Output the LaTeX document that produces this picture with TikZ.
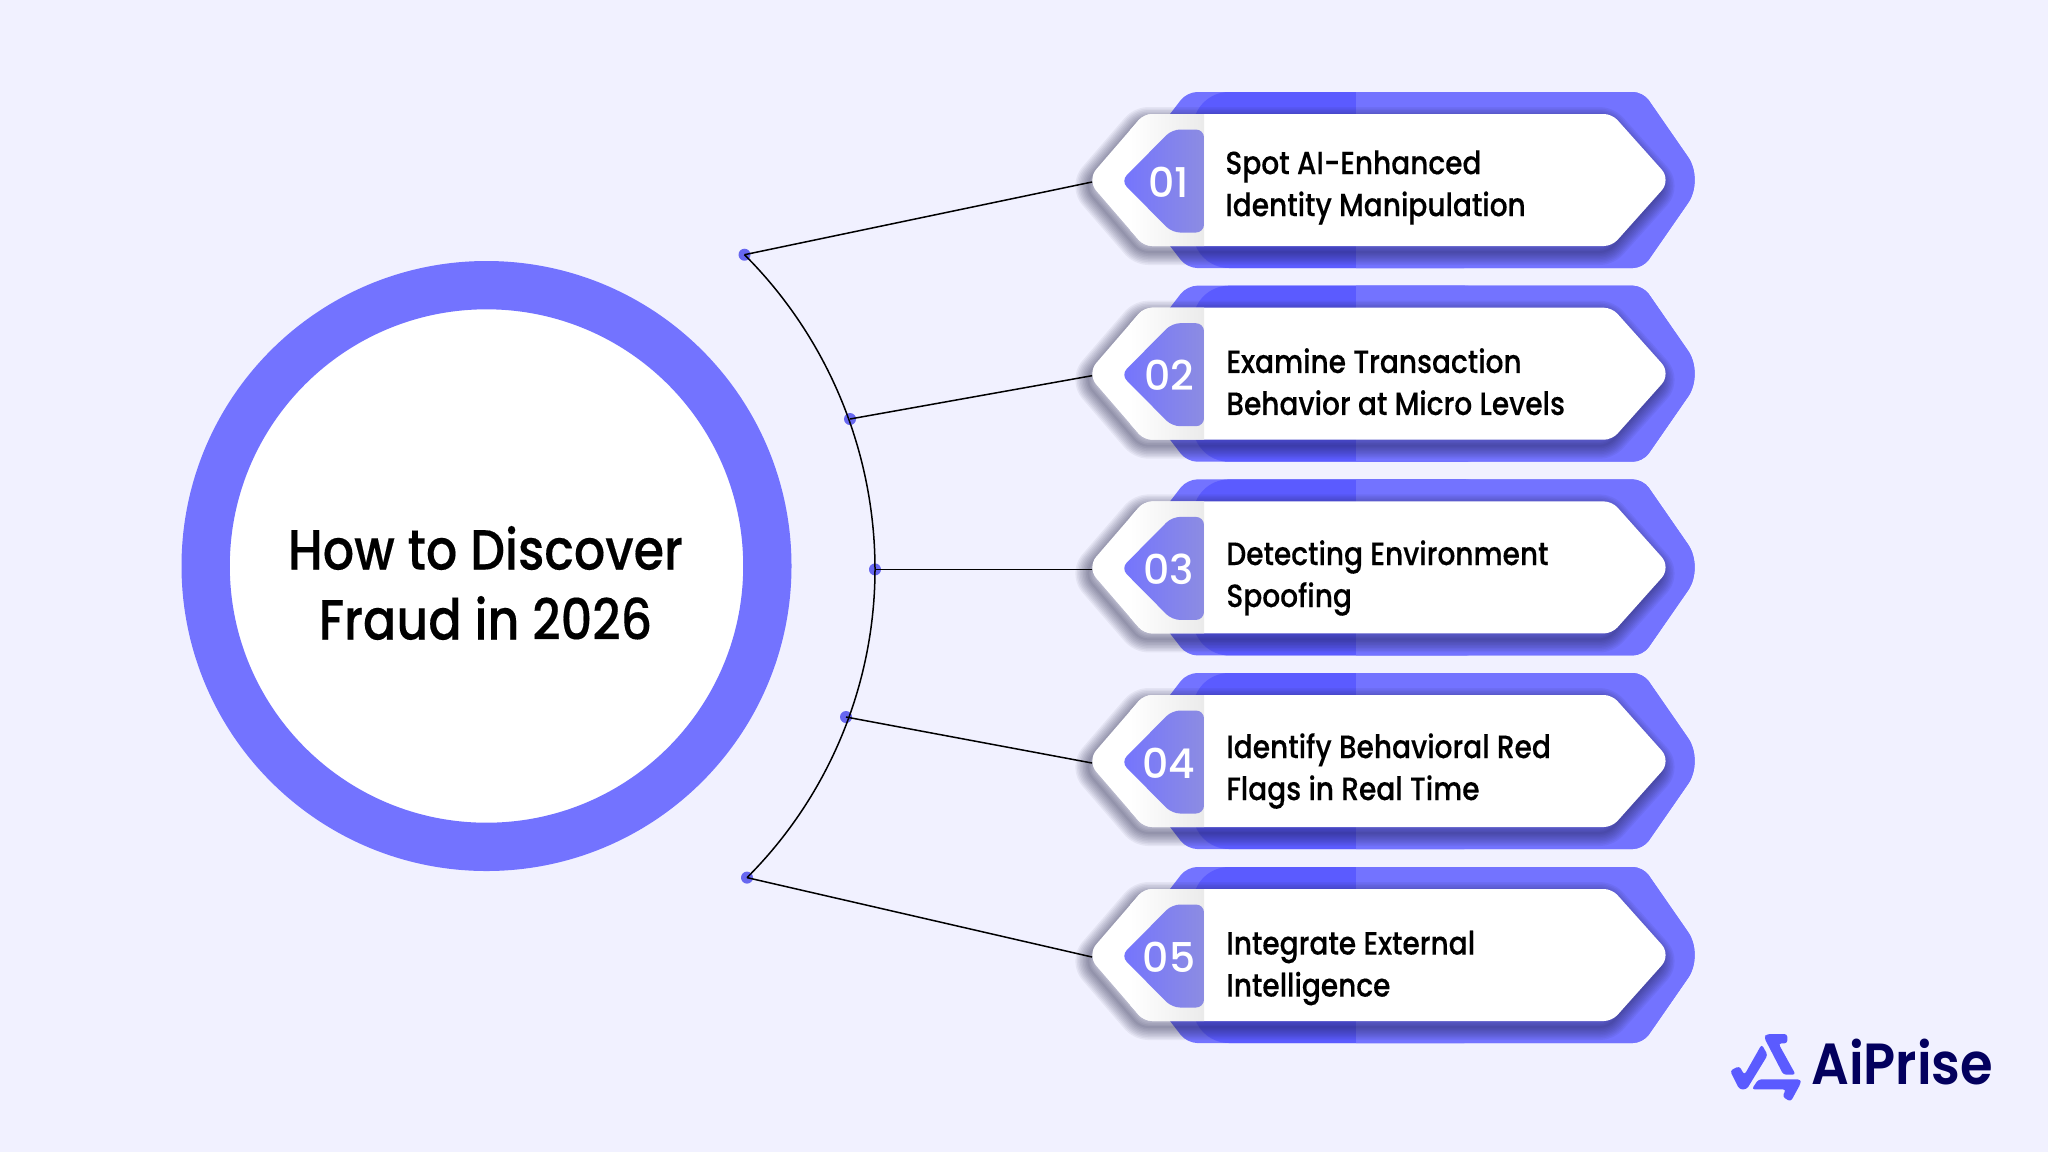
\documentclass[tikz,border=0pt]{standalone}
\usepackage{fontspec}
\setmainfont{Poppins}[UprightFont=* Medium,FakeStretch=0.87,FakeBold=0.25]
\newfontfamily\numfont{Poppins}[UprightFont=* Medium]
\newfontfamily\logofont{Poppins}[UprightFont=* SemiBold,FakeStretch=0.91]
\definecolor{bgc}{HTML}{F1F1FF}
\definecolor{ringc}{HTML}{7373FF}
\definecolor{darkc}{HTML}{5B5BFF}
\definecolor{dotc}{HTML}{6767F0}
\definecolor{navyc}{HTML}{03005E}
\definecolor{shadowc}{HTML}{1A1A40}
\definecolor{badgeend}{HTML}{8C8CE2}
\newcommand{\outerpath}{[rounded corners=5pt] (1187,-88) -- (1643,-88) [rounded corners=14pt] -- (1704,0) [rounded corners=5pt] -- (1643,88) -- (1187,88) -- (1119,0) -- cycle}
\newcommand{\whitepath}{[rounded corners=4pt] (1144,-66) -- (1612,-66) [rounded corners=7pt] -- (1671,0) [rounded corners=4pt] -- (1612,66) -- (1144,66) [rounded corners=7pt] -- (1087,0) [rounded corners=4pt] -- cycle}
\newcommand{\badgepath}{[rounded corners=4pt] (1204,-50.5) -- (1172,-50.5) -- (1121,1) -- (1172,52.5) -- (1204,52.5) -- cycle}
\tikzset{
  x=0.5pt,y=-0.5pt,
  ring/.style={circle,draw=ringc,fill=white,line width=24.15pt,minimum size=280.85pt,inner sep=0pt},
  titletext/.style={align=center,font=\fontsize{28.3pt}{35pt}\selectfont,text=black},
  rowtext/.style={anchor=west,align=left,inner sep=0pt,font=\fontsize{16.1pt}{21pt}\selectfont,text=black},
  numtext/.style={inner sep=0pt,font=\fontsize{20.5pt}{21pt}\numfont,text=white},
  dotnode/.style={circle,fill=dotc,minimum size=6pt,inner sep=0pt},
  wire/.style={draw=black,line width=0.75pt},
  logotext/.style={anchor=base west,inner sep=0pt,text=navyc,font=\fontsize{29pt}{30pt}\logofont},
}
\begin{document}
\begin{tikzpicture}
\useasboundingbox (0,0) rectangle (2048,1152);
\fill[bgc] (0,0) rectangle (2048,1152);
% rows (background shapes)
\foreach \n/\yy in {1/180,2/373.7,3/567.4,4/761,5/955}{
\begin{scope}[shift={(0,\yy)}]
  \fill[ringc] \outerpath;
  \begin{scope}
    \clip \outerpath;
    \fill[darkc,rounded corners=18pt] (1193,-88) rectangle (1500,88);
    \fill[ringc] (1356,-90) rectangle (1720,90);
  \end{scope}
  \begin{scope}[shift={(-4,6)}]
    \foreach \w in {1,2.5,...,14}{
      \draw[shadowc,opacity=0.058,line width=\w pt,line join=round] \whitepath;
    }
  \end{scope}
  \fill[white] \whitepath;
  \begin{scope}
    \clip \whitepath;
    \shade[left color=white,right color=black!8] (1130,-70) rectangle (1204,70);
  \end{scope}
  \begin{scope}
    \clip \badgepath;
    \shade[left color=ringc,right color=badgeend] (1118,-55) rectangle (1204,55);
  \end{scope}
  \coordinate (tip\n) at (1092,2);
  \node[numtext] (num\n) at (1169,2) {0\n};
\end{scope}
}
% central circle
\node[ring] (hub) at (486.5,566) {};
\node[titletext] (title) at (485.5,583) {How to Discover\\Fraud in 2026};
% dots and connectors
\node[dotnode] (d1) at (744.5,254.7) {};
\node[dotnode] (d2) at (850,419) {};
\node[dotnode] (d3) at (875,569.4) {};
\node[dotnode] (d4) at (846,717) {};
\node[dotnode] (d5) at (747,877.6) {};
\draw[wire] (d1.center) to[bend left=22.5,looseness=0.885] (d3.center);
\draw[wire] (d3.center) to[bend left=22.5,looseness=0.885] (d5.center);
\draw[wire] (d1.center) -- (tip1);
\draw[wire] (d2.center) -- (tip2);
\draw[wire] (d3.center) -- (tip3);
\draw[wire] (d4.center) -- (tip4);
\draw[wire] (d5.center) -- (tip5);
% row texts
\node[rowtext] (t1) at (1225,187.5) {Spot AI-Enhanced\\Identity Manipulation};
\node[rowtext] (t2) at (1226,381.7) {Examine Transaction\\Behavior at Micro Levels};
\node[rowtext] (t3) at (1226,578) {Detecting Environment\\Spoofing};
\node[rowtext] (t4) at (1226,771) {Identify Behavioral Red\\Flags in Real Time};
\node[rowtext] (t5) at (1226,968) {Integrate External\\Intelligence};
% logo
\begin{scope}[shift={(1700,1000)},x=0.1667pt,y=-0.1667pt]
  \fill[darkc,rounded corners=1.5pt] (192,112) -- (200,102) -- (262,102) -- (262,130) -- (235,130) -- (287,224) -- (250,224) -- cycle;
  \fill[darkc,rounded corners=1.5pt] (155,268) -- (175,238) -- (302,238) -- (302,250) -- (272,305) -- (247,290) -- (258,268) -- cycle;
  \fill[darkc,rounded corners=1.5pt] (90,212) -- (118,198) -- (133,225) -- (185,133) -- (203,165) -- (140,268) -- (118,268) -- cycle;
\end{scope}
\node[logotext] (logo) at (1811,1084.5) {AiPrise};
\end{tikzpicture}
\end{document}
